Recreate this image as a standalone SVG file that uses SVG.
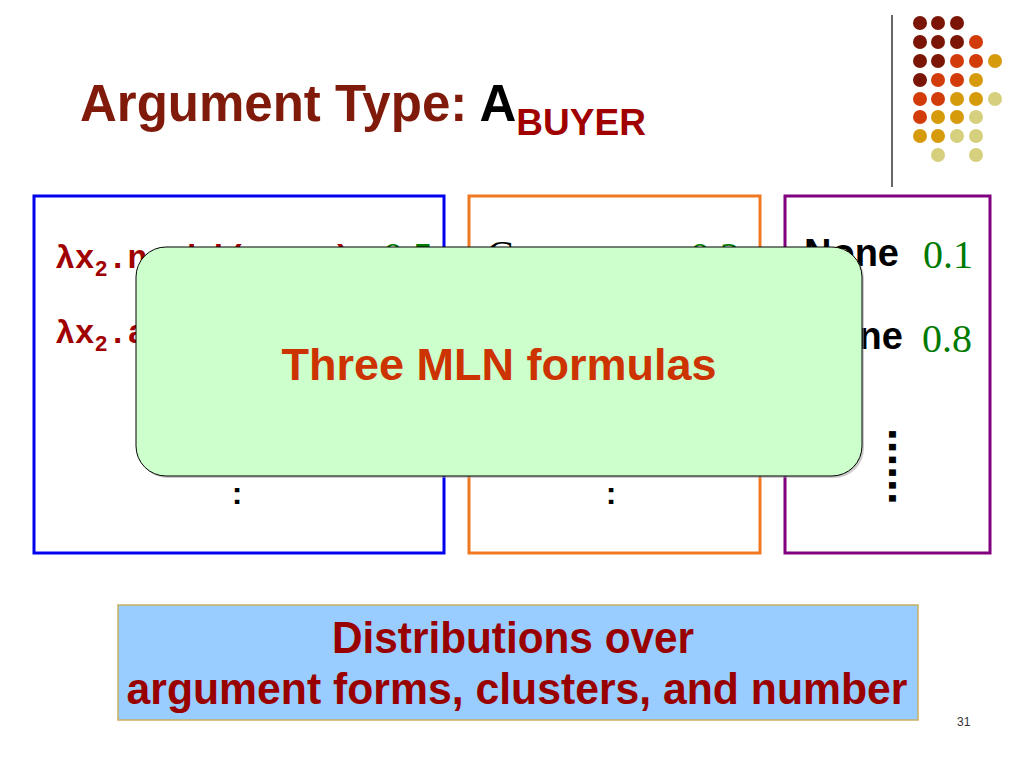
<svg xmlns="http://www.w3.org/2000/svg" width="1024" height="768" viewBox="0 0 1024 768">
<style>
.sans{font-family:"Liberation Sans",Arial,sans-serif;font-weight:bold}
.mono{font-family:"Liberation Mono","Courier New",monospace;font-weight:bold;fill:#A00000}
.num{font-family:"Liberation Serif","Times New Roman",serif;fill:#007A00;font-size:40px}
.box{fill:#FFFFFF;stroke-width:3}
.dr{fill:#7B1505}.ro{fill:#D23C0A}.go{fill:#D69B0A}.kh{fill:#D5CF7E}
</style>
<rect width="1024" height="768" fill="#FFFFFF"/>
<g id="title">
<text x="80" y="121" class="sans" font-size="51" fill="#801A0A">Argument Type: <tspan fill="#000000">A</tspan><tspan font-size="37" dy="14" fill="#A00000">BUYER</tspan></text>
</g>
<g id="decoration">
<line x1="892" y1="15" x2="892" y2="187" stroke="#333333" stroke-width="1.5"/>
<g id="dots">
<circle class="dr" cx="920" cy="23" r="7"/><circle class="dr" cx="938" cy="23" r="7"/><circle class="dr" cx="957" cy="23" r="7"/>
<circle class="dr" cx="920" cy="42" r="7"/><circle class="dr" cx="938" cy="42" r="7"/><circle class="dr" cx="957" cy="42" r="7"/><circle class="ro" cx="976" cy="42" r="7"/>
<circle class="dr" cx="920" cy="61" r="7"/><circle class="dr" cx="938" cy="61" r="7"/><circle class="ro" cx="957" cy="61" r="7"/><circle class="ro" cx="976" cy="61" r="7"/><circle class="go" cx="995" cy="61" r="7"/>
<circle class="dr" cx="920" cy="80" r="7"/><circle class="ro" cx="938" cy="80" r="7"/><circle class="ro" cx="957" cy="80" r="7"/><circle class="go" cx="976" cy="80" r="7"/>
<circle class="ro" cx="920" cy="99" r="7"/><circle class="ro" cx="938" cy="99" r="7"/><circle class="go" cx="957" cy="99" r="7"/><circle class="go" cx="976" cy="99" r="7"/><circle class="kh" cx="995" cy="99" r="7"/>
<circle class="ro" cx="920" cy="117" r="7"/><circle class="go" cx="938" cy="117" r="7"/><circle class="go" cx="957" cy="117" r="7"/><circle class="kh" cx="976" cy="117" r="7"/>
<circle class="go" cx="920" cy="136" r="7"/><circle class="go" cx="938" cy="136" r="7"/><circle class="kh" cx="957" cy="136" r="7"/><circle class="kh" cx="976" cy="136" r="7"/>
<circle class="kh" cx="938" cy="155" r="7"/><circle class="kh" cx="976" cy="155" r="7"/>
</g>
</g>
<g id="forms">
<rect class="box" x="34" y="196" width="410" height="357" stroke="#0000EE"/>
<text x="55" y="268" class="mono" font-size="33">λx<tspan font-size="22" dy="8">2</tspan><tspan dy="-8">.nsubj(x</tspan><tspan font-size="22" dy="8">1</tspan><tspan dy="-8">,x</tspan><tspan font-size="22" dy="8">2</tspan><tspan dy="-8">)</tspan></text>
<text x="383" y="270" class="num">0.5</text>
<text x="55" y="343" class="mono" font-size="33">λx<tspan font-size="22" dy="8">2</tspan><tspan dy="-8">.agent</tspan></text>
<text x="237" y="504" class="sans" font-size="32" text-anchor="middle" fill="#000000">:</text>
</g>
<g id="clusters">
<rect class="box" x="469" y="196" width="291" height="357" stroke="#F07820"/>
<text x="487" y="268" font-family="Liberation Serif,Times New Roman,serif" font-size="40" fill="#000000">C</text>
<text x="690" y="270" class="num">0.2</text>
<text x="611" y="504" class="sans" font-size="32" text-anchor="middle" fill="#000000">:</text>
</g>
<g id="number">
<rect class="box" x="785" y="196" width="205" height="357" stroke="#800080"/>
<text x="804" y="266" class="sans" font-size="38" fill="#000000">None</text>
<text x="923" y="268" class="num">0.1</text>
<text x="829" y="349" class="sans" font-size="38" fill="#000000">One</text>
<text x="922" y="352" class="num">0.8</text>
<text x="0" y="0" class="sans" font-size="46" fill="#000000" transform="translate(889,428) rotate(90)">......</text>
</g>
<g id="mln">
<rect x="138" y="249" width="726" height="229" rx="30" fill="#999999" opacity="0.5"/>
<rect x="136" y="247" width="726" height="229" rx="30" fill="#CCFFCC" stroke="#000000" stroke-width="1"/>
<text x="499" y="380" class="sans" font-size="45" fill="#CC3300" text-anchor="middle">Three MLN formulas</text>
</g>
<g id="summary">
<rect x="118" y="605" width="800" height="115" fill="#99CCFF" stroke="#C8B060" stroke-width="1.5"/>
<text x="513" y="653" class="sans" font-size="44" fill="#990000" text-anchor="middle" textLength="362" lengthAdjust="spacingAndGlyphs">Distributions over</text>
<text x="517" y="704" class="sans" font-size="44" fill="#990000" text-anchor="middle" textLength="781" lengthAdjust="spacingAndGlyphs">argument forms, clusters, and number</text>
</g>
<text x="957" y="726" font-family="Liberation Sans,Arial,sans-serif" font-size="12" fill="#333333">31</text>
</svg>
